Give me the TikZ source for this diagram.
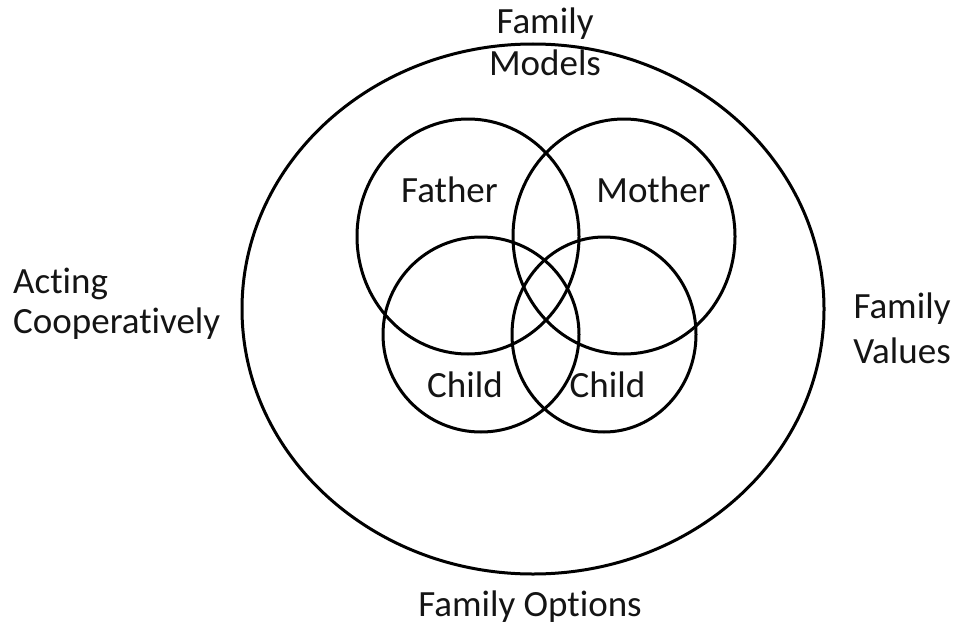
\documentclass[tikz,border=0pt]{standalone}
\usepackage{fontspec}
\setmainfont{Carlito}[Ligatures=NoCommon]
\begin{document}
\begin{tikzpicture}[x=1pt,y=-1pt,
  ring/.style={draw=black, line width=3pt},
  lbl/.style={font=\fontsize{37}{42}\selectfont, inner sep=0pt, text=black!92}]
\useasboundingbox (0,0) rectangle (955,626);
% outer circle
\draw[ring] (533,309) ellipse [x radius=291pt, y radius=265pt];
% inner circles
\draw[ring] (468,236.5) ellipse [x radius=111pt, y radius=117.5pt];
\draw[ring] (624,236.5) ellipse [x radius=111pt, y radius=117.5pt];
\draw[ring] (481,334.5) ellipse [x radius=98pt, y radius=97.5pt];
\draw[ring] (604,334.5) ellipse [x radius=92pt, y radius=97.5pt];
% labels
\node[lbl, anchor=base] (father) at (449.5,202) {Father};
\node[lbl, anchor=base] (mother) at (653.5,202) {Mother};
\node[lbl, anchor=base] (child1) at (465,397) {Child};
\node[lbl, anchor=base] (child2) at (607.5,397) {Child};
\node[lbl, anchor=base, align=center] (models) at (545,75) {Family\\Models};
\node[lbl, anchor=base west, align=left, font=\fontsize{37}{40}\selectfont] (acting) at (13,333) {Acting\\Cooperatively};
\node[lbl, anchor=base, align=center, font=\fontsize{37}{45}\selectfont] (values) at (902,363) {Family\\Values};
\node[lbl, anchor=base] (options) at (530,616) {Family Options};
\end{tikzpicture}
\end{document}
